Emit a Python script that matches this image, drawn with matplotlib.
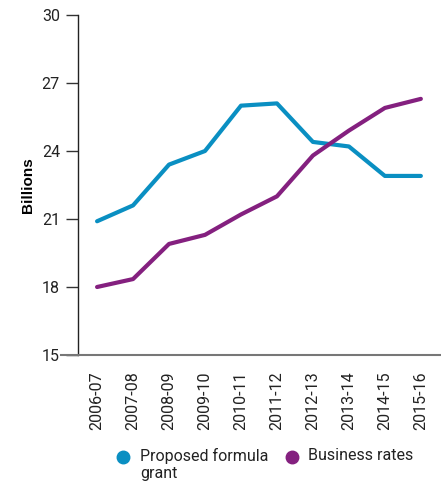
import matplotlib
matplotlib.use("Agg")
import matplotlib.pyplot as plt
from matplotlib.lines import Line2D
from matplotlib import font_manager

years = ["2006-07", "2007-08", "2008-09", "2009-10", "2010-11",
         "2011-12", "2012-13", "2013-14", "2014-15", "2015-16"]
formula_grant = [20.9, 21.6, 23.4, 24.0, 26.0, 26.1, 24.4, 24.2, 22.9, 22.9]
business_rates = [18.0, 18.35, 19.9, 20.3, 21.2, 22.0, 23.8, 24.9, 25.9, 26.3]
y_ticks = [15, 18, 21, 24, 27, 30]

BLUE = "#0a8fc2"
PURPLE = "#84207f"

names = {f.name for f in font_manager.fontManager.ttflist}
label_font = next((n for n in ["Roboto", "Lato"] if n in names), "DejaVu Sans")

W, H = 441, 486
fig = plt.figure(figsize=(W / 100, H / 100), dpi=100)
ax = fig.add_axes([78 / W, 1 - 355 / H, (441 - 78) / W, (355 - 15) / H])

x = list(range(len(years)))
ax.plot(x, formula_grant, color=BLUE, lw=3.0, solid_capstyle="round", solid_joinstyle="round")
ax.plot(x, business_rates, color=PURPLE, lw=3.0, solid_capstyle="round", solid_joinstyle="round")

ax.set_xlim(-0.53, 9.56)
ax.set_ylim(15, 30)
ax.set_yticks(y_ticks)
ax.set_yticklabels([str(v) for v in y_ticks], fontfamily=label_font, fontsize=11.5, color="#222222")
ax.set_xticks(x)
ax.set_xticklabels(years, rotation=90, fontfamily=label_font, fontsize=11.5, color="#222222")

ax.tick_params(axis="y", length=9, width=1.0, color="#333333", pad=4)
ax.tick_params(axis="x", length=0, pad=12)

for s in ["top", "right"]:
    ax.spines[s].set_visible(False)
ax.spines["left"].set_color("#222222")
ax.spines["left"].set_linewidth(1.0)
ax.spines["bottom"].set_color("#777777")
ax.spines["bottom"].set_linewidth(1.5)
ax.spines["bottom"].set_bounds(-1.0, 9.56)
ax.spines["bottom"].set_clip_on(False)

ax.set_ylabel("Billions", fontfamily="Liberation Sans", fontweight="bold", fontsize=11, labelpad=5)

# Legend built from markers and text in figure coordinates
def fx(px):
    return px / W

def fy(py):
    return 1 - py / H

fig.add_artist(Line2D([fx(123)], [fy(457)], marker="o", markersize=9, color=BLUE,
                      linestyle="none", transform=fig.transFigure))
fig.text(fx(140), fy(448), "Proposed formula\ngrant", fontfamily=label_font, fontsize=11.5,
         va="top", ha="left", color="#222222", linespacing=1.2)
fig.add_artist(Line2D([fx(292)], [fy(457)], marker="o", markersize=9, color=PURPLE,
                      linestyle="none", transform=fig.transFigure))
fig.text(fx(308), fy(448), "Business rates", fontfamily=label_font, fontsize=11.5,
         va="top", ha="left", color="#222222")

fig.savefig("out.png", dpi=100)
